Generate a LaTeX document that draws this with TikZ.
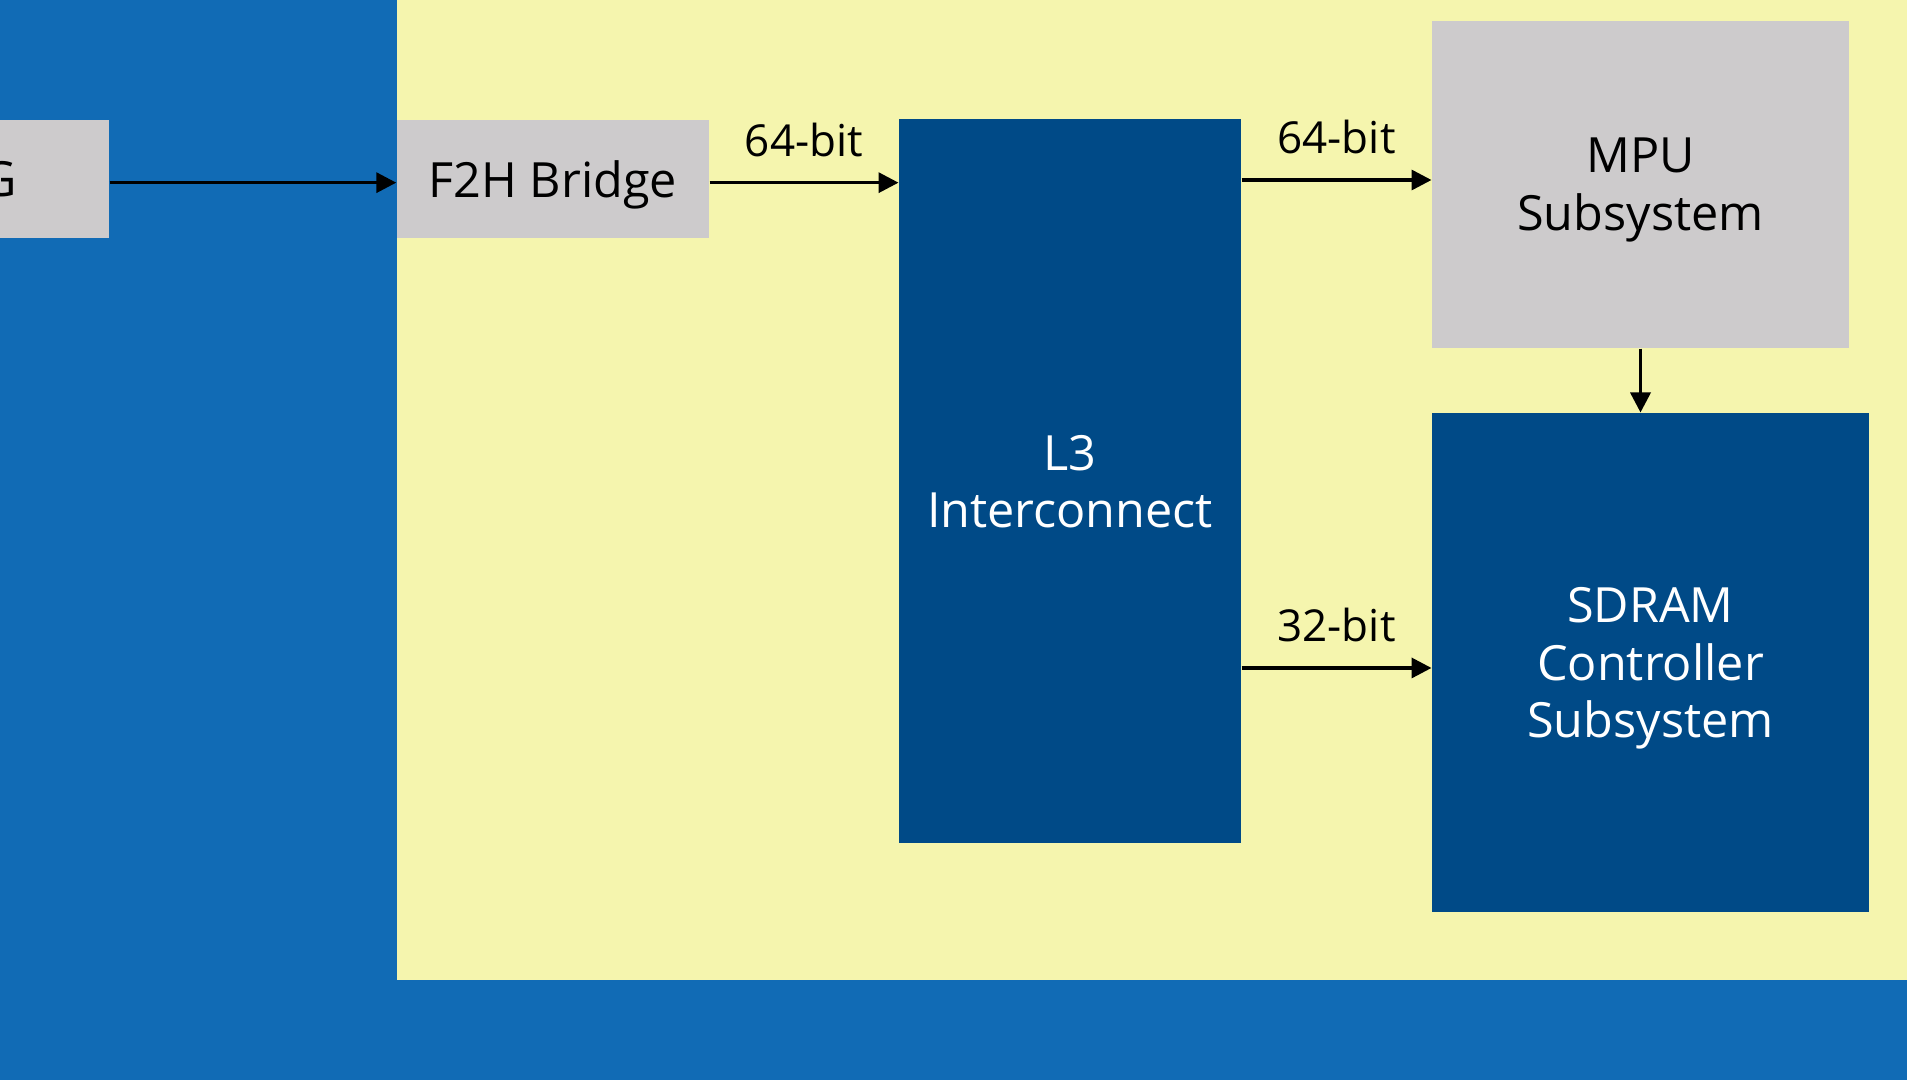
\documentclass[tikz,border=0pt]{standalone}
\usepackage{fontspec}
\setmainfont{Open Sans}
\usetikzlibrary{arrows.meta}

\definecolor{hpsblue}{RGB}{17,107,181}
\definecolor{hpsyellow}{RGB}{245,245,174}
\definecolor{boxgrey}{RGB}{205,203,204}
\definecolor{boxblue}{RGB}{0,74,135}

\tikzset{every picture/.style={line width=0.75pt}}
\tikzset{
  greybox/.style={fill=boxgrey, inner sep=0pt, text depth=0pt, align=center, text=black, font=\fontsize{36.4}{43.1}\selectfont},
  bluebox/.style={fill=boxblue, inner sep=0pt, text depth=0pt, align=center, text=white, font=\fontsize{36.4}{43.1}\selectfont},
  busarrow/.style={line width=2.6pt, -{Triangle[length=15pt,width=15pt]}},
  buslabel/.style={inner sep=0pt, text=black, font=\fontsize{33}{40}\selectfont, above=18pt}
}

\begin{document}
\begin{tikzpicture}[x=0.75pt,y=0.75pt,yscale=-1,xscale=1]
        \useasboundingbox (0,0) rectangle (1920,1080);
        \clip (0,0) rectangle (1920,1080);
        %Shape: Rectangle [background]
        \fill [white] (0,0) rectangle (1920,1080);
        \fill [hpsblue] (0,0) rectangle (1907,1080);
        %Shape: Rectangle [HPS area]
        \fill [hpsyellow] (396.7,0) rectangle (1907,980);
        % Text Node
        \node [greybox, minimum width=165pt, minimum height=88.7pt] (gbox) at (-1,179.2) {G};
        % Text Node
        \node [greybox, minimum width=234.2pt, minimum height=88.7pt] (f2h) at (552.9,179.2) {F2H Bridge};
        % Text Node
        \node [bluebox, minimum width=256.5pt, minimum height=542.8pt] (l3) at (1070,481.2) {L3\\Interconnect};
        % Text Node
        \node [greybox, minimum width=312.75pt, minimum height=245.5pt] (mpu) at (1640.5,184.4) {MPU\\Subsystem};
        % Text Node
        \node [bluebox, minimum width=327.75pt, minimum height=374.25pt] (sdram) at (1650.5,662.5) {SDRAM\\Controller\\Subsystem};
        % Connectors
        \coordinate (gout) at ([yshift=2.6pt]gbox.east);
        \coordinate (f2hout) at ([yshift=2.6pt]f2h.east);
        \coordinate (mpuin) at ([yshift=-3.3pt]mpu.west);
        \coordinate (sdramin) at ([yshift=4.1pt]sdram.west);
        \draw [busarrow] (gout) -- (gout -| f2h.west);
        \draw [busarrow] (f2hout) -- node [buslabel] (bus1) {64-bit} (f2hout -| l3.west);
        \draw [busarrow] (mpuin -| l3.east) -- node [buslabel] (bus2) {64-bit} (mpuin);
        \draw [busarrow] (sdramin -| l3.east) -- node [buslabel] (bus3) {32-bit} (sdramin);
        \draw [busarrow] (mpu.south) -- (mpu.south |- sdram.north);
\end{tikzpicture}
\end{document}
